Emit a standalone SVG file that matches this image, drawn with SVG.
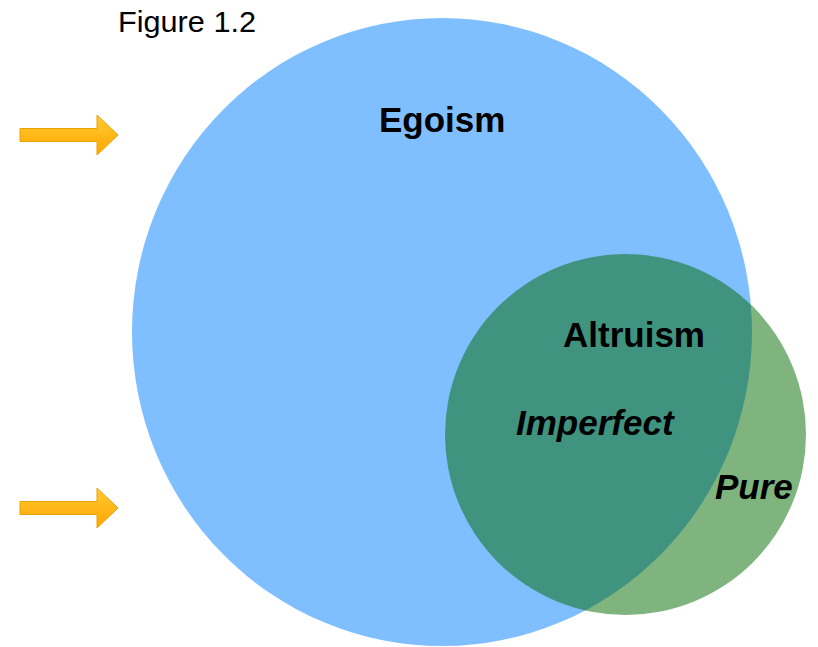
<svg xmlns="http://www.w3.org/2000/svg" width="818" height="647" viewBox="0 0 818 647">
  <defs>
    <linearGradient id="arrowFill" x1="0" y1="0" x2="0" y2="1">
      <stop offset="0" stop-color="#FFCB33"/>
      <stop offset="1" stop-color="#FFA600"/>
    </linearGradient>
    <path id="arrowShape" d="M0,-6.5 L77,-6.5 L77,-20 L98,0 L77,20 L77,6.5 L0,6.5 Z"/>
  </defs>
  <style>
    .label { font-family: "Liberation Sans", Arial, sans-serif; fill: #000; }
    .bold { font-weight: bold; font-size: 35px; }
    .boldItalic { font-weight: bold; font-style: italic; font-size: 35px; }
    .caption { font-size: 29px; }
    .arrow { fill: url(#arrowFill); stroke: #E9A200; stroke-width: 1; stroke-linejoin: miter; }
  </style>

  <rect width="818" height="647" fill="#FFFFFF"/>

  <text id="caption" class="label caption" x="118" y="31.5" textLength="138" lengthAdjust="spacingAndGlyphs">Figure 1.2</text>

  <!-- Egoism set -->
  <g id="egoism">
    <ellipse cx="442" cy="332" rx="310" ry="314" fill="#80BFFF"/>
    <text class="label bold" x="379" y="132">Egoism</text>
  </g>

  <!-- Altruism set, translucent so the overlap darkens -->
  <g id="altruism">
    <circle cx="625.5" cy="434.5" r="180.5" fill="#006900" fill-opacity="0.5"/>
    <text class="label bold" x="563" y="347">Altruism</text>
  </g>

  <g id="imperfect">
    <text class="label boldItalic" x="516" y="435">Imperfect</text>
  </g>

  <g id="pure">
    <text class="label boldItalic" x="715" y="499">Pure</text>
  </g>

  <!-- Pointer arrows -->
  <g id="connectors">
    <use href="#arrowShape" class="arrow" transform="translate(20,135)"/>
    <use href="#arrowShape" class="arrow" transform="translate(20,508)"/>
  </g>
</svg>
